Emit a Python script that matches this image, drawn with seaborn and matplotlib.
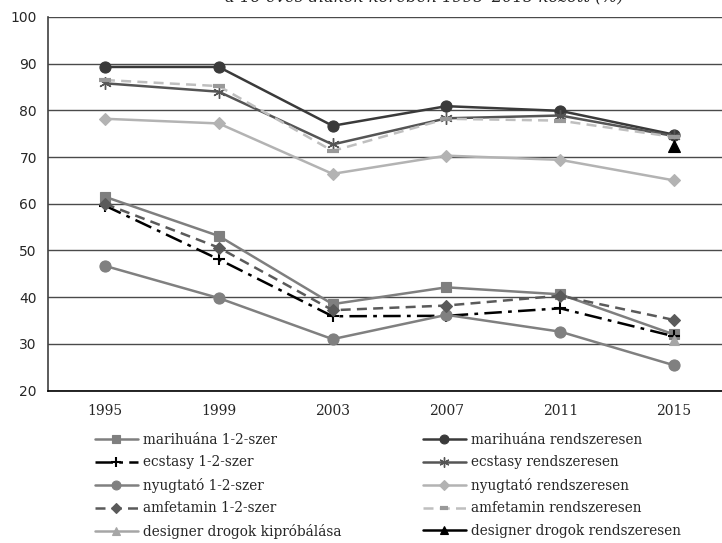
import matplotlib
matplotlib.use('Agg')
import matplotlib.pyplot as plt
import seaborn as sns

# DATA
#******************************************************************************
years = ['1995', '1999', '2003', '2007', '2011', '2015']

marihuana_1_2 = [61.5, 53.1, 38.5, 42.1, 40.6, 32.0]
marihuana_rend = [89.3, 89.3, 76.7, 80.9, 79.9, 74.8]
ecstasy_1_2 = [59.6, 48.1, 35.9, 36.0, 37.6, 31.6]
ecstasy_rend = [85.8, 84.0, 72.7, 78.3, 78.9, 74.5]
nyugtato_1_2 = [46.7, 39.8, 31.0, 36.2, 32.6, 25.4]
nyugtato_rend = [78.2, 77.2, 66.4, 70.3, 69.4, 65.0]
amfetamin_1_2 = [60.0, 50.6, 37.2, 38.2, 40.3, 35.1]
amfetamin_rend = [86.5, 85.2, 71.3, 78.2, 77.8, 74.3]
designer_years = ['2015']
designer_kiprob = [30.8]
designer_rend = [72.3]

title = 'a 16 éves diákok körében 1995\u20132015 között (%)'

#STYLES
#******************************************************************************
series = [
    ('marihuána 1-2-szer', years, marihuana_1_2,
     dict(color='#7f7f7f', marker='s', markersize=7, linestyle='-')),
    ('marihuána rendszeresen', years, marihuana_rend,
     dict(color='#3a3a3a', marker='o', markersize=8, linestyle='-')),
    ('ecstasy 1-2-szer', years, ecstasy_1_2,
     dict(color='black', marker='+', markersize=9, markeredgewidth=1.5,
          linestyle=(0, (7, 2.5, 1.5, 2.5)))),
    ('ecstasy rendszeresen', years, ecstasy_rend,
     dict(color='#555555', marker=(6, 2, 0), markersize=9, markeredgewidth=1.0,
          linestyle='-')),
    ('nyugtató 1-2-szer', years, nyugtato_1_2,
     dict(color='#808080', marker='o', markersize=8, linestyle='-')),
    ('nyugtató rendszeresen', years, nyugtato_rend,
     dict(color='#b3b3b3', marker='D', markersize=6, linestyle='-')),
    ('amfetamin 1-2-szer', years, amfetamin_1_2,
     dict(color='#5a5a5a', marker='D', markersize=6, linestyle=(0, (4, 2.5)))),
    ('amfetamin rendszeresen', years, amfetamin_rend,
     dict(color='#bfbfbf', marker='_', markersize=8, markeredgewidth=3,
          markeredgecolor='#999999', linestyle=(0, (4, 2.5)))),
    ('designer drogok kipróbálása', designer_years, designer_kiprob,
     dict(color='#a6a6a6', marker='^', markersize=7, linestyle='-')),
    ('designer drogok rendszeresen', designer_years, designer_rend,
     dict(color='black', marker='^', markersize=8, linestyle='-')),
]

#PLOT
#******************************************************************************
sns.set_style('white')
plt.rcParams['font.family'] = ['DejaVu Serif']

fig = plt.figure(figsize=(7.22, 5.43), dpi=100)
ax = fig.add_axes([48 / 722, 1 - 390.5 / 543, (731 - 48) / 722, (390.5 - 17) / 543])

for label, xs, ys, style in series:
    style = dict(style)
    style.setdefault('markeredgecolor', style['color'])
    style.setdefault('markeredgewidth', 0.8)
    sns.lineplot(x=xs, y=ys, ax=ax, linewidth=1.8, label=label, sort=False, **style)

ax.set_xlim(-0.5, 5.5)
ax.set_ylim(20, 100)
ax.set_yticks(range(20, 101, 10))
ax.set_yticklabels([str(v) for v in range(20, 101, 10)], family='DejaVu Sans', fontsize=10)
ax.yaxis.grid(True, color='#4a4a4a', linewidth=1.0)
ax.set_axisbelow(True)

ax.set_xticks(range(len(years)))
ax.set_xticklabels(years, fontsize=10)
ax.set_xticks([i - 0.5 for i in range(len(years) + 1)], minor=True)
ax.tick_params(axis='x', which='major', length=0, pad=10)
ax.tick_params(axis='x', which='minor', length=4, width=1, direction='out', color='black')
ax.tick_params(axis='y', length=5, width=1, direction='out', color='#404040', pad=3)

for side in ['top', 'right']:
    ax.spines[side].set_visible(False)
ax.spines['left'].set_color('#404040')
ax.spines['left'].set_linewidth(1.2)
ax.spines['bottom'].set_color('black')
ax.spines['bottom'].set_linewidth(1.2)

#legend: two separate columns placed under the plot
h, l = ax.get_legend_handles_labels()
lookup = dict(zip(l, h))
ax.get_legend().remove()
left_col = [s[0] for s in series[0::2]]
right_col = [s[0] for s in series[1::2]]
legend_kw = dict(frameon=False, loc='upper left', bbox_transform=fig.transFigure,
                 fontsize=9.8, handlelength=3.15, handletextpad=0.35,
                 labelspacing=0.62, borderpad=0, borderaxespad=0, markerscale=0.8)
leg1 = fig.legend([lookup[k] for k in left_col], left_col,
                  bbox_to_anchor=(95 / 722, 1 - 433 / 543), **legend_kw)
leg2 = fig.legend([lookup[k] for k in right_col], right_col,
                  bbox_to_anchor=(423 / 722, 1 - 433 / 543), **legend_kw)

fig.text(424 / 722, 1 - 2.5 / 543, title, ha='center', va='baseline',
         style='italic', fontsize=11.8)

fig.savefig('out.png', dpi=100)
